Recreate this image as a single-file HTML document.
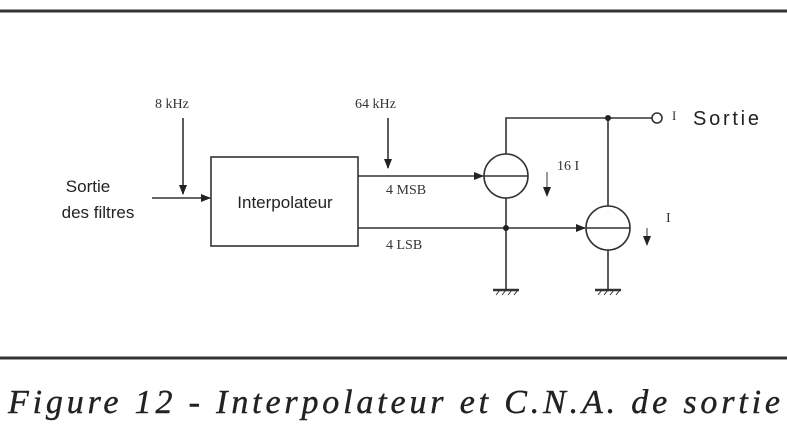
<!DOCTYPE html><html><head><style>body{margin:0;background:#fff}</style></head><body>
<svg width="787" height="433" xmlns="http://www.w3.org/2000/svg" style="display:block">
<defs><marker id="a" markerWidth="10" markerHeight="8" refX="9" refY="4" orient="auto" markerUnits="userSpaceOnUse"><path d="M0,0L10,4L0,8z" fill="#222"/></marker></defs>
<rect width="787" height="433" fill="#fff"/>
<line x1="0" y1="11" x2="787" y2="11" stroke="#333" stroke-width="3"/>
<line x1="0" y1="358" x2="787" y2="358" stroke="#333" stroke-width="3"/>
<g stroke="#333" stroke-width="1.6" fill="none">
<rect x="211" y="157" width="147" height="89"/>
<line x1="152" y1="198" x2="210" y2="198" marker-end="url(#a)"/>
<line x1="183" y1="118" x2="183" y2="194" marker-end="url(#a)"/>
<line x1="388" y1="118" x2="388" y2="168" marker-end="url(#a)"/>
<line x1="358" y1="176" x2="483" y2="176" marker-end="url(#a)"/>
<line x1="358" y1="228" x2="585" y2="228" marker-end="url(#a)"/>
<circle cx="506" cy="176" r="22"/><line x1="484" y1="176" x2="528" y2="176"/>
<circle cx="608" cy="228" r="22"/><line x1="586" y1="228" x2="630" y2="228"/>
<polyline points="506,154 506,118 652,118"/>
<circle cx="657" cy="118" r="5"/>
<line x1="608" y1="118" x2="608" y2="206"/>
<line x1="506" y1="198" x2="506" y2="290"/>
<line x1="608" y1="250" x2="608" y2="290"/>
<line x1="493" y1="290" x2="519" y2="290" stroke-width="2.5"/>
<line x1="595" y1="290" x2="621" y2="290" stroke-width="2.5"/>
<path d="M496,295l4,-5M502,295l4,-5M508,295l4,-5M514,295l4,-5M598,295l4,-5M604,295l4,-5M610,295l4,-5M616,295l4,-5" stroke-width="1"/>
<line x1="547" y1="172" x2="547" y2="196" marker-end="url(#a)" stroke-width="1"/>
<line x1="647" y1="228" x2="647" y2="245" marker-end="url(#a)" stroke-width="1"/>
</g>
<circle cx="608" cy="118" r="3" fill="#222"/><circle cx="506" cy="228" r="3" fill="#222"/>
<g font-family="Liberation Sans, sans-serif" fill="#222">
<text x="88" y="192" font-size="17" text-anchor="middle">Sortie</text>
<text x="98" y="218" font-size="17" text-anchor="middle">des filtres</text>
<text x="285" y="208" font-size="17" text-anchor="middle">Interpolateur</text>
<text x="693" y="125" font-size="20" textLength="66">Sortie</text>
</g>
<g font-family="Liberation Serif, serif" fill="#333" font-size="14">
<text x="155" y="108">8 kHz</text>
<text x="355" y="108">64 kHz</text>
<text x="386" y="194">4 MSB</text>
<text x="386" y="249">4 LSB</text>
<text x="557" y="170">16 I</text>
<text x="672" y="120" font-size="13">I</text>
<text x="666" y="222">I</text>
</g>
<text x="8" y="413" font-family="Liberation Serif, serif" font-style="italic" font-size="34" fill="#222" stroke="#222" stroke-width="0.4" textLength="772" lengthAdjust="spacing">Figure 12 - Interpolateur et C.N.A. de sortie</text>
</svg></body></html>
